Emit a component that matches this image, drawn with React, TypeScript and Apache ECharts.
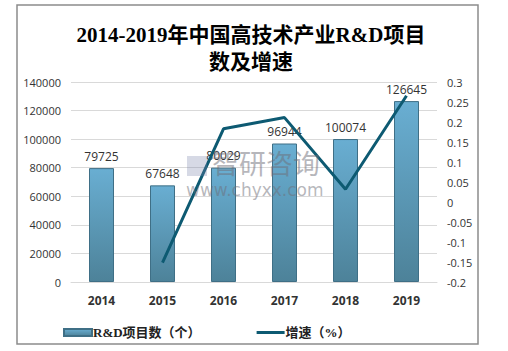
import React, { useEffect, useRef } from "react";
import * as echarts from "echarts";

const years = ["2014", "2015", "2016", "2017", "2018", "2019"];
const projects = [79725, 67648, 80029, 96944, 100074, 126645];
const growth: (number | null)[] = [null, -0.1515, 0.183, 0.211, 0.032, 0.2655];
const titleText = "2014-2019年中国高技术产业R&D项目\n数及增速";
const barName = "R&D项目数（个）";
const lineName = "增速（%）";

export default function App() {
  const ref = useRef<HTMLDivElement>(null);
  useEffect(() => {
    if (!ref.current) return;
    const chart = echarts.init(ref.current, null, { renderer: "svg" });
    chart.setOption({
      animation: false,
      backgroundColor: "#fff",
      title: {
        text: titleText,
        left: 246,
        textAlign: "center",
        top: 16,
        textStyle: {
          fontFamily: "'Liberation Serif', 'Noto Sans CJK SC', serif",
          fontSize: 21,
          fontWeight: "bold",
          color: "#000",
          lineHeight: 27,
        },
      },
      graphic: [
        {
          type: "rect",
          shape: { x: 17, y: 5, width: 461, height: 339 },
          style: { fill: "none", stroke: "#8c8c8c", lineWidth: 1.5 },
          silent: true,
        },
        {
          type: "text",
          left: 212,
          top: 149,
          z: 100,
          style: {
            text: "智研咨询",
            fontSize: 27,
            fontFamily: "'Noto Sans CJK SC', sans-serif",
            fill: "rgba(110,110,120,0.5)",
          },
          silent: true,
        },
        {
          type: "rect",
          z: 100,
          shape: { x: 187, y: 156, width: 20, height: 20 },
          style: { fill: "rgba(120,130,170,0.3)" },
          silent: true,
        },
        {
          type: "text",
          left: 186,
          top: 181,
          z: 100,
          style: {
            text: "www.chyxx.com",
            fontSize: 17,
            fontFamily: "'DejaVu Sans', sans-serif",
            fill: "rgba(110,110,120,0.5)",
          },
          silent: true,
        },
      ],
      legend: {
        left: 58,
        top: 321,
        itemGap: 56,
        itemWidth: 28,
        itemHeight: 7,
        textStyle: {
          fontFamily: "'Liberation Serif', 'Noto Sans CJK SC', serif",
          fontSize: 13,
          fontWeight: "bold",
          color: "#222",
          padding: [0, 0, 0, -4],
        },
        data: [
          { name: barName, icon: "rect" },
          { name: lineName, icon: "path://M0,0h28v3h-28z", itemStyle: { color: "#0d5a72" } },
        ],
      },
      grid: { left: 71, right: 71, top: 82, bottom: 69 },
      xAxis: {
        type: "category",
        data: years,
        axisLine: { lineStyle: { color: "#d9d9d9" } },
        axisTick: { show: false },
        axisLabel: {
          color: "#333",
          fontWeight: "bold",
          fontSize: 12,
          margin: 12,
          fontFamily: "'Open Sans', 'DejaVu Sans', sans-serif",
        },
      },
      yAxis: [
        {
          type: "value",
          min: 0,
          max: 140000,
          interval: 20000,
          axisLine: { show: false },
          axisTick: { show: false },
          splitLine: { lineStyle: { color: "#d9d9d9" } },
          axisLabel: {
            color: "#333",
            fontSize: 11,
            margin: 10,
            fontFamily: "'Open Sans', 'DejaVu Sans', sans-serif",
            formatter: (v: number) => String(v),
          },
        },
        {
          type: "value",
          min: -0.2,
          max: 0.3,
          interval: 0.05,
          axisLine: { show: false },
          axisTick: { show: false },
          splitLine: { show: false },
          axisLabel: {
            color: "#333",
            fontSize: 11,
            margin: 10,
            align: "left",
            fontFamily: "'Open Sans', 'DejaVu Sans', sans-serif",
            formatter: (v: number) => String(Math.round(v * 100) / 100),
          },
        },
      ],
      series: [
        {
          name: barName,
          type: "bar",
          data: projects,
          barWidth: 25,
          itemStyle: {
            color: new echarts.graphic.LinearGradient(0, 0, 0, 1, [
              { offset: 0, color: "#69aed2" },
              { offset: 1, color: "#4d8299" },
            ]),
            borderColor: "#3f6f86",
            borderWidth: 1,
          },
          label: {
            show: true,
            position: "top",
            distance: 6,
            color: "#333",
            fontSize: 12,
            fontFamily: "'Open Sans', 'DejaVu Sans', sans-serif",
          },
        },
        {
          name: lineName,
          type: "line",
          yAxisIndex: 1,
          data: growth,
          symbol: "none",
          lineStyle: { color: "#0d5a72", width: 3 },
          itemStyle: { color: "#0d5a72" },
        },
      ],
    });
    return () => chart.dispose();
  }, []);
  return (
    <div
      ref={ref}
      style={{ position: "fixed", left: 0, top: 0, width: 508, height: 351 }}
    />
  );
}
